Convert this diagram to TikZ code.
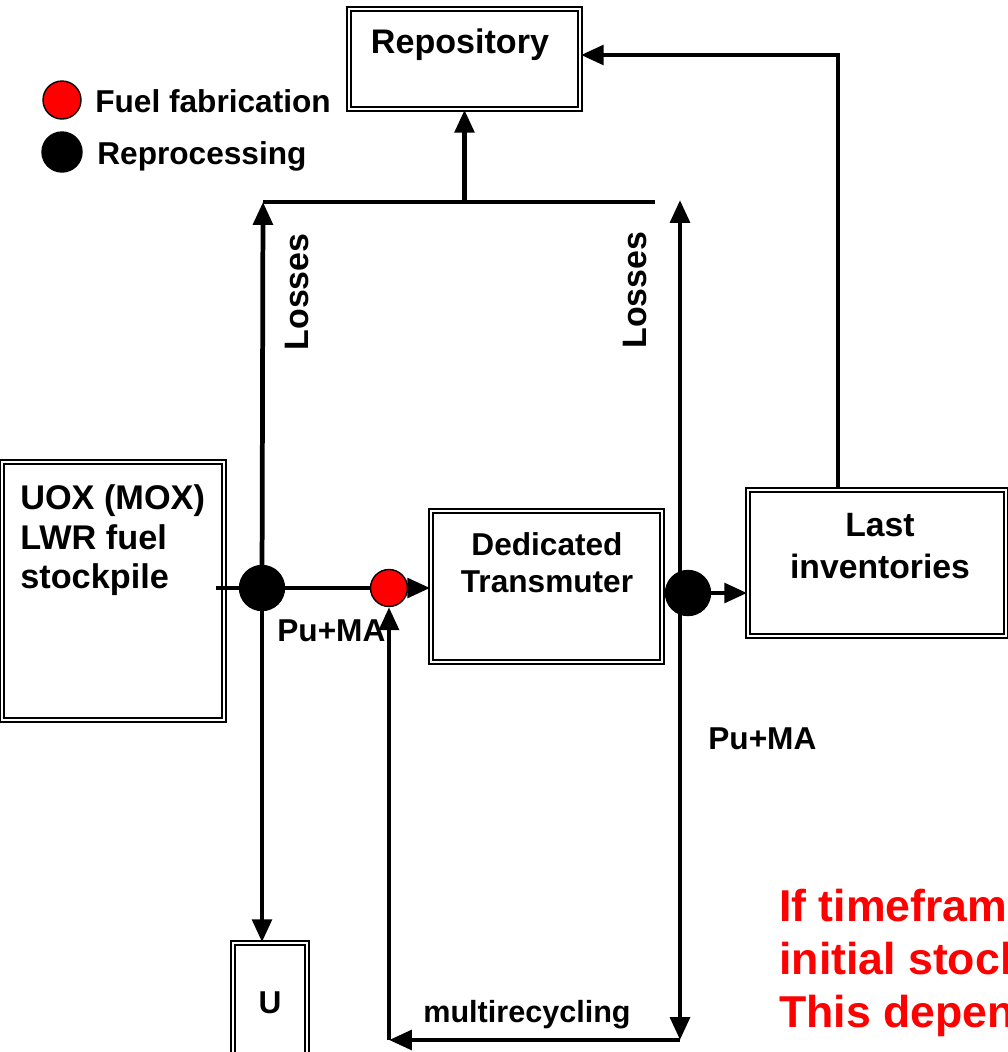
\documentclass[tikz,border=0pt]{standalone}
\usepackage{fontspec}
\setmainfont{Liberation Sans}
\usetikzlibrary{arrows.meta,positioning,calc}
\definecolor{fabred}{RGB}{255,0,0}

\begin{document}
\begin{tikzpicture}[x=0.02cm,y=-0.02cm,>={Triangle[length=13pt,width=11pt]},
  flow/.style={line width=2.7pt},
  dbox/.style={draw,line width=1pt,double distance=1.3pt,inner sep=0pt},
  jdot/.style={circle,draw=black,fill=black,line width=0.8pt,inner sep=0pt,minimum size=0.9cm},
  lbl/.style={inner sep=0pt,font=\bfseries\fontsize{18}{21}\selectfont}]
  \useasboundingbox (0,0) rectangle (1008,1052);
  \clip (0,0) rectangle (1008,1052);
  % boxes
  \node[dbox,minimum width=4.62cm,minimum height=2cm] (repo) at (464.5,59) {};
  \node[lbl,font=\bfseries\fontsize{19.4}{23}\selectfont,anchor=base] (repotxt) at (460,53) {Repository};
  \node[dbox,minimum width=4.44cm,minimum height=5.16cm] (stock) at (113,591) {};
  \node[lbl,font=\bfseries\fontsize{19.5}{22.7}\selectfont,align=left,anchor=north west] (stocktxt) at (20,484)
    {UOX (MOX)\\LWR fuel\\stockpile};
  \node[dbox,minimum width=4.62cm,minimum height=3.02cm] (trans) at (546.5,586.5) {};
  \node[lbl,align=center,anchor=north] (transtxt) at (547,532) {Dedicated\\Transmuter};
  \node[dbox,minimum width=5.16cm,minimum height=2.92cm] (last) at (877,563) {};
  \node[lbl,font=\bfseries\fontsize{19.2}{23.8}\selectfont,align=center,anchor=north] (lasttxt) at (880,513) {Last\\inventories};
  \node[dbox,minimum width=1.48cm,minimum height=2.28cm] (ubox) at (270,1000) {};
  \node[lbl,anchor=base] (utxt) at (270,1013) {U};
  % legend
  \node[jdot,fill=fabred,minimum size=0.76cm] (redleg) at (62,100) {};
  \node[jdot,minimum size=0.8cm] (blkleg) at (62,152) {};
  \node[lbl,anchor=base west] (fabtxt) at (95,112) {Fuel fabrication};
  \node[lbl,anchor=base west] (reptxt) at (97,164) {Reprocessing};
  % junctions
  \node[jdot] (j1) at (262,588) {};
  \node[jdot,fill=fabred,minimum size=0.74cm] (f1) at (389,588) {};
  \node[jdot] (j2) at (688,593) {};
  \coordinate (lossL) at (263,202);
  \coordinate (lossR) at (655,202);
  \coordinate (rtop) at (680,200);
  \coordinate (rbot) at (680,1040);
  \coordinate (rcorner) at (838,55);
  % flows
  \draw[flow] (lossL) -- (lossR);
  \draw[flow,->] (repo.south |- lossL) -- (repo.south);
  \draw[flow,->] (j1) -- (lossL);
  \draw[flow,->] (j1) -- (j1 |- ubox.north);
  \draw[flow] ($(stock.east |- j1)+(-9,0)$) -- (j1);
  \draw[flow] (j1) -- (f1);
  \draw[flow,->] (f1) -- (f1 -| trans.west);
  \draw[flow] (trans.east |- j2) -- (j2);
  \draw[flow,->] (j2) -- (j2 -| last.west);
  \draw[flow,->] (rtop |- j2) -- (rtop);
  \draw[flow,->] (rtop |- j2) -- (rbot);
  \draw[flow,->] (rbot) -- (f1 |- rbot);
  \draw[flow,->] (f1 |- rbot) -- (f1.south);
  \draw[flow,->] (rcorner |- last.north) -- (rcorner) -- (rcorner -| repo.east);
  % labels
  \node[lbl,font=\bfseries\fontsize{19.3}{23}\selectfont,rotate=90] (loss1) at (297,292) {Losses};
  \node[lbl,font=\bfseries\fontsize{19.3}{23}\selectfont,rotate=90] (loss2) at (635,290) {Losses};
  \node[lbl,anchor=base west] (pu1) at (277,641) {Pu+MA};
  \node[lbl,anchor=base west] (pu2) at (708,749) {Pu+MA};
  \node[lbl,font=\bfseries\fontsize{17.4}{20}\selectfont,anchor=base west] (multi) at (423,1022) {multirecycling};
  \node[lbl,font=\bfseries\fontsize{25.4}{30}\selectfont,text=fabred,align=left,anchor=north west] (note) at (779,889)
    {If timeframe\\initial stockpile\\This depends};
\end{tikzpicture}
\end{document}
